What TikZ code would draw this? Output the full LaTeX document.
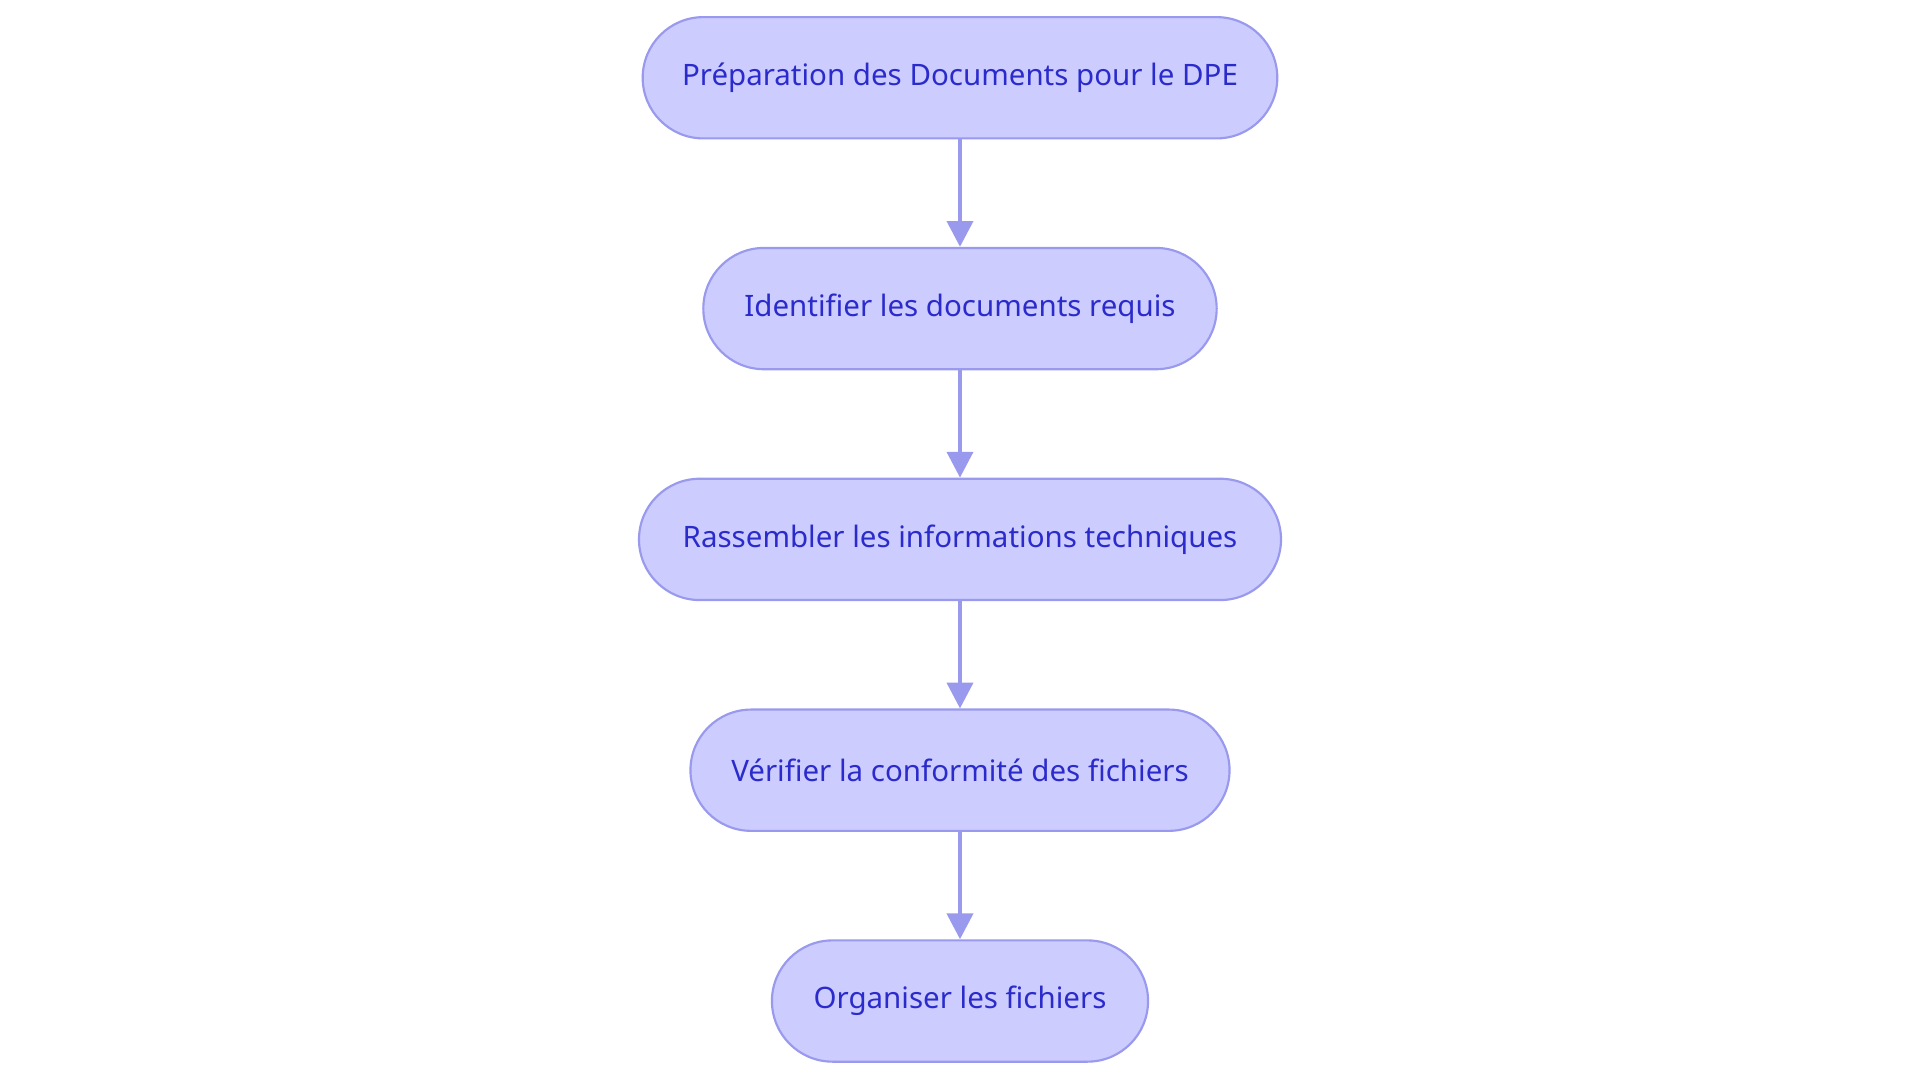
\documentclass[tikz,border=0pt]{standalone}
\usepackage{fontspec}
\setmainfont{Noto Sans}
\usetikzlibrary{arrows.meta}
\definecolor{boxfill}{HTML}{CCCCFF}
\definecolor{boxline}{HTML}{9999EE}
\definecolor{boxtext}{HTML}{2B2BCC}
\begin{document}
\begin{tikzpicture}[x=0.01cm,y=-0.01cm,
  pill/.style={draw=boxline,fill=boxfill,text=boxtext,line width=0.5pt,
    rounded corners=0.495cm,minimum height=0.99cm,inner sep=0pt,
    font=\fontsize{6.85}{8}\selectfont},
  conn/.style={draw=boxline,line width=1pt,-{Triangle[length=6pt,width=6pt]}}]
\useasboundingbox (0,0) rectangle (1568,884);
\node[pill,minimum width=5.18cm] (a) at (784,63.5) {Préparation des Documents pour le DPE};
\node[pill,minimum width=4.19cm] (b) at (784,252) {Identifier les documents requis};
\node[pill,minimum width=5.24cm] (c) at (784,440.5) {Rassembler les informations techniques};
\node[pill,minimum width=4.40cm] (d) at (784,629) {Vérifier la conformité des fichiers};
\node[pill,minimum width=3.07cm] (e) at (784,817.5) {Organiser les fichiers};
\draw[conn] (a) -- (b);
\draw[conn] (b) -- (c);
\draw[conn] (c) -- (d);
\draw[conn] (d) -- (e);
\end{tikzpicture}
\end{document}
